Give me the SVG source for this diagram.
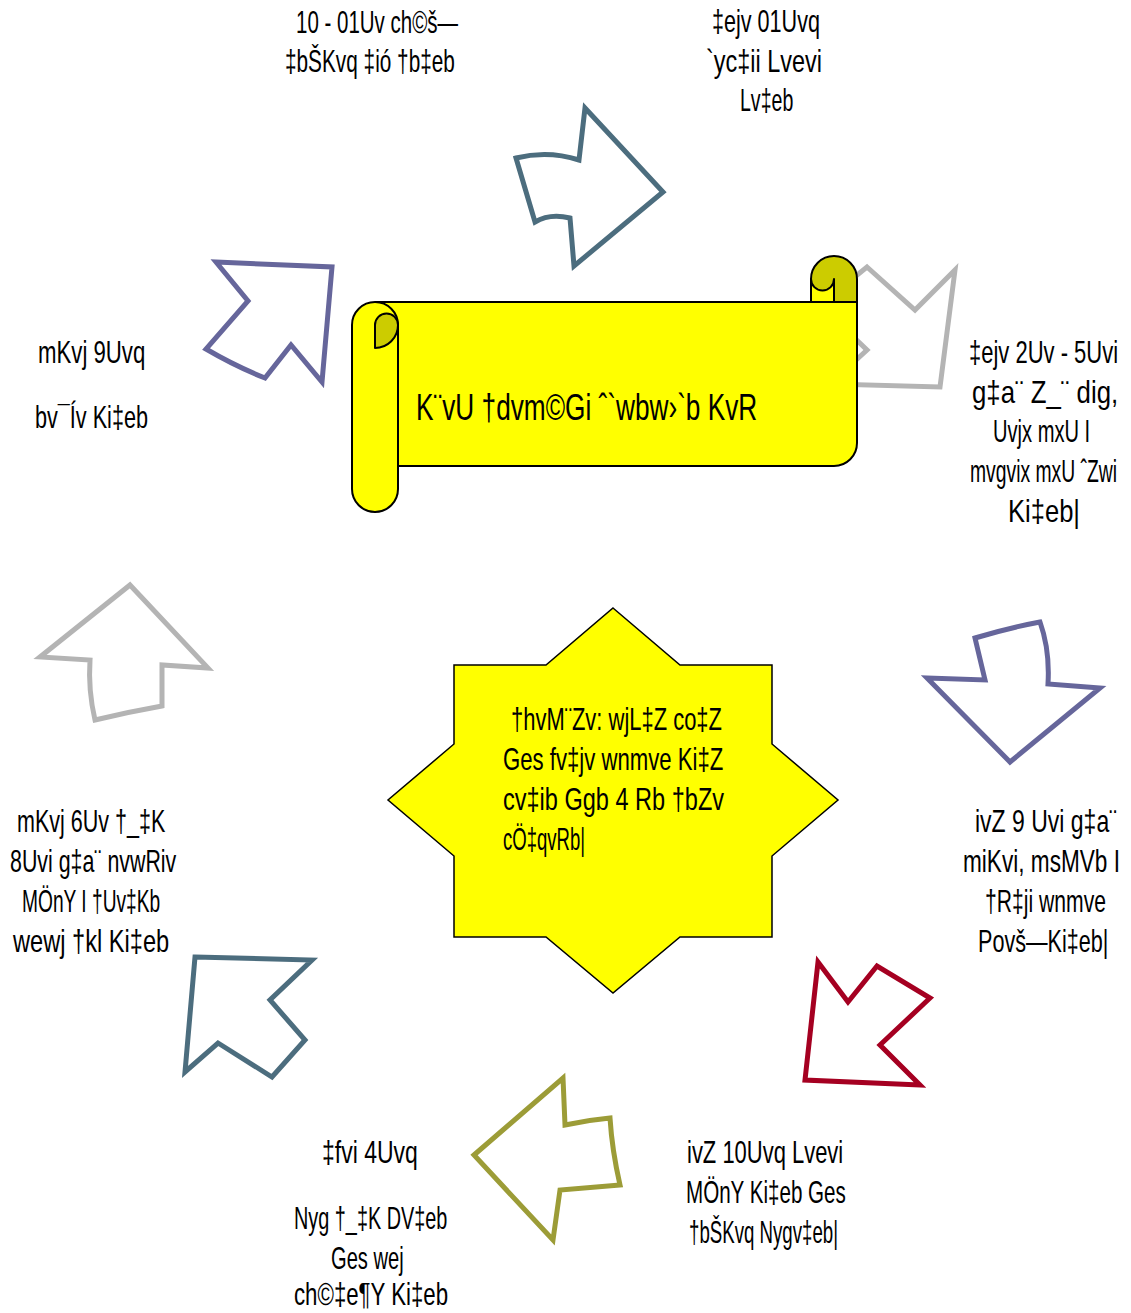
<svg xmlns="http://www.w3.org/2000/svg" width="1131" height="1313" viewBox="0 0 1131 1313">
  <style>
    .arrow { fill: none; stroke-width: 5; stroke-linejoin: miter; }
    .teal { stroke: #4C6D7E; }
    .purple { stroke: #66669B; }
    .gray { stroke: #B4B4B4; }
    .red { stroke: #A50021; }
    .olive { stroke: #9C9C37; }
    .lbl { font-family: "Liberation Sans", Arial, sans-serif; font-size: 31px; fill: #000; }
    .star-txt { font-size: 32px; }
    .title { font-size: 37px; }
    .paper { fill: #FFFF00; stroke: #000; stroke-width: 2; stroke-linejoin: round; }
    .curl { fill: #CCCC00; stroke: #000; stroke-width: 2; stroke-linejoin: round; }
  </style>

  <!-- cycle arrows -->
  <g id="connectors">
    <path id="arrow-top" class="arrow teal" d="M516,158 Q548,150 579,160 L585,108 L663,192 L574,266 L570,218 Q550,213 535,222 Z"/>
    <path id="arrow-upper-right" class="arrow gray" d="M867,267 L915,310 L955,270 L940,387 L830,384 L867,350 L820,305 Z"/>
    <path id="arrow-right" class="arrow purple" d="M927,678 L985,680 L975,638 Q1008,628 1040,622 Q1050,650 1048,684 L1100,688 L1010,762 Z"/>
    <path id="arrow-lower-right" class="arrow red" d="M818,962 L848,1002 L877,966 L930,998 L880,1045 L920,1085 L805,1080 Z"/>
    <path id="arrow-bottom" class="arrow olive" d="M474,1155 L563,1078 L565,1125 Q588,1120 610,1118 Q612,1150 620,1185 L560,1190 L553,1240 Z"/>
    <path id="arrow-lower-left" class="arrow teal" d="M195,957 L312,960 L270,1000 L305,1040 L272,1077 L218,1043 L185,1072 Z"/>
    <path id="arrow-left" class="arrow gray" d="M130,585 L208,668 L162,665 L162,706 Q128,712 95,720 Q88,690 90,660 L40,657 Z"/>
    <path id="arrow-upper-left" class="arrow purple" d="M216,262 L332,267 L322,382 L291,345 L265,378 Q235,366 206,349 L248,301 Z"/>
  </g>

  <!-- title scroll -->
  <g id="scroll">
    <path class="curl" d="M811,302 L811,279 A23,23 0 0 1 857,279 L857,302 Z"/>
    <path class="paper" d="M811,302 L811,279 A11.5,11.5 0 0 0 834,279 L834,302 Z"/>
    <path class="paper" d="M375,302 L857,302 L857,443 A23,23 0 0 1 834,466 L398,466 L398,489 A23,23 0 0 1 352,489 L352,325 A23,23 0 0 1 375,302 Z"/>
    <path fill="none" stroke="#000" stroke-width="2" d="M375,302 A23,23 0 0 1 398,325 L398,466"/>
    <path class="curl" d="M375,325 A11.5,11.5 0 0 1 398,325 A23,23 0 0 1 375,348 Z"/>
    <text class="lbl title" transform="translate(416,420) scale(0.72,1)" textLength="474" lengthAdjust="spacingAndGlyphs">K¨vU †dvm©Gi ˆ`wbw›`b KvR</text>
  </g>

  <!-- requirements star -->
  <g id="star">
    <polygon fill="#FFFF00" stroke="#000" stroke-width="1.5" points="613,608 680,665 772,665 772,744 838,800 772,856 772,937 680,937 613,993 546,937 454,937 454,856 388,800 454,744 454,665 546,665"/>
    <text class="lbl star-txt" transform="translate(511,730) scale(0.72,1)" textLength="293" lengthAdjust="spacingAndGlyphs">†hvM¨Zv: wjL‡Z co‡Z</text>
    <text class="lbl star-txt" transform="translate(503,770) scale(0.72,1)" textLength="306" lengthAdjust="spacingAndGlyphs">Ges fv‡jv wnmve Ki‡Z</text>
    <text class="lbl star-txt" transform="translate(503,810) scale(0.72,1)" textLength="307" lengthAdjust="spacingAndGlyphs">cv‡ib Ggb 4 Rb †bZv</text>
    <text class="lbl star-txt" transform="translate(503,850) scale(0.72,1)" textLength="114" lengthAdjust="spacingAndGlyphs">cÖ‡qvRb|</text>
  </g>

  <!-- time slots -->
  <g id="slot-noon-rest">
    <text class="lbl" transform="translate(296,33) scale(0.72,1)" textLength="225" lengthAdjust="spacingAndGlyphs">10 - 01Uv ch©š—</text>
    <text class="lbl" transform="translate(285,72) scale(0.72,1)" textLength="236" lengthAdjust="spacingAndGlyphs">‡bŠKvq ‡ió †b‡eb</text>
  </g>
  <g id="slot-lunch">
    <text class="lbl" transform="translate(712,32) scale(0.72,1)" textLength="150" lengthAdjust="spacingAndGlyphs">‡ejv 01Uvq</text>
    <text class="lbl" transform="translate(706,72) scale(0.72,1)" textLength="161" lengthAdjust="spacingAndGlyphs">`yc‡ii Lvevi</text>
    <text class="lbl" transform="translate(740,111) scale(0.72,1)" textLength="74" lengthAdjust="spacingAndGlyphs">Lv‡eb</text>
  </g>
  <g id="slot-afternoon">
    <text class="lbl" transform="translate(969,363) scale(0.72,1)" textLength="207" lengthAdjust="spacingAndGlyphs">‡ejv 2Uv - 5Uvi</text>
    <text class="lbl" transform="translate(972,403) scale(0.72,1)" textLength="203" lengthAdjust="spacingAndGlyphs">g‡a¨ Z_¨ dig,</text>
    <text class="lbl" transform="translate(993,442) scale(0.72,1)" textLength="135" lengthAdjust="spacingAndGlyphs">Uvjx mxU I</text>
    <text class="lbl" transform="translate(970,482) scale(0.62,1)" textLength="237" lengthAdjust="spacingAndGlyphs">mvgvix mxU ˆZwi</text>
    <text class="lbl" transform="translate(1008,522) scale(0.72,1)" textLength="100" lengthAdjust="spacingAndGlyphs">Ki‡eb|</text>
  </g>
  <g id="slot-night">
    <text class="lbl" transform="translate(975,832) scale(0.72,1)" textLength="197" lengthAdjust="spacingAndGlyphs">ivZ 9 Uvi g‡a¨</text>
    <text class="lbl" transform="translate(963,872) scale(0.72,1)" textLength="218" lengthAdjust="spacingAndGlyphs">miKvi, msMVb I</text>
    <text class="lbl" transform="translate(985,912) scale(0.72,1)" textLength="168" lengthAdjust="spacingAndGlyphs">†R‡ji wnmve</text>
    <text class="lbl" transform="translate(978,952) scale(0.72,1)" textLength="181" lengthAdjust="spacingAndGlyphs">Povš—Ki‡eb|</text>
  </g>
  <g id="slot-dinner">
    <text class="lbl" transform="translate(687,1163) scale(0.72,1)" textLength="217" lengthAdjust="spacingAndGlyphs">ivZ 10Uvq Lvevi</text>
    <text class="lbl" transform="translate(686,1203) scale(0.72,1)" textLength="222" lengthAdjust="spacingAndGlyphs">MÖnY Ki‡eb Ges</text>
    <text class="lbl" transform="translate(689,1243) scale(0.72,1)" textLength="207" lengthAdjust="spacingAndGlyphs">†bŠKvq Nygv‡eb|</text>
  </g>
  <g id="slot-dawn">
    <text class="lbl" transform="translate(322,1163) scale(0.72,1)" textLength="133" lengthAdjust="spacingAndGlyphs">‡fvi 4Uvq</text>
    <text class="lbl" transform="translate(294,1229) scale(0.72,1)" textLength="213" lengthAdjust="spacingAndGlyphs">Nyg †_‡K DV‡eb</text>
    <text class="lbl" transform="translate(331,1269) scale(0.72,1)" textLength="101" lengthAdjust="spacingAndGlyphs">Ges wej</text>
    <text class="lbl" transform="translate(294,1305) scale(0.72,1)" textLength="214" lengthAdjust="spacingAndGlyphs">ch©‡e¶Y Ki‡eb</text>
  </g>
  <g id="slot-morning">
    <text class="lbl" transform="translate(17,832) scale(0.72,1)" textLength="206" lengthAdjust="spacingAndGlyphs">mKvj 6Uv †_‡K</text>
    <text class="lbl" transform="translate(10,872) scale(0.72,1)" textLength="231" lengthAdjust="spacingAndGlyphs">8Uvi g‡a¨ nvwRiv</text>
    <text class="lbl" transform="translate(22,912) scale(0.72,1)" textLength="192" lengthAdjust="spacingAndGlyphs">MÖnY I †Uv‡Kb</text>
    <text class="lbl" transform="translate(13,952) scale(0.72,1)" textLength="217" lengthAdjust="spacingAndGlyphs">wewj †kl Ki‡eb</text>
  </g>
  <g id="slot-breakfast">
    <text class="lbl" transform="translate(38,363) scale(0.72,1)" textLength="149" lengthAdjust="spacingAndGlyphs">mKvj 9Uvq</text>
    <text class="lbl" transform="translate(35,428) scale(0.72,1)" textLength="157" lengthAdjust="spacingAndGlyphs">bv¯Ív Ki‡eb</text>
  </g>
</svg>
